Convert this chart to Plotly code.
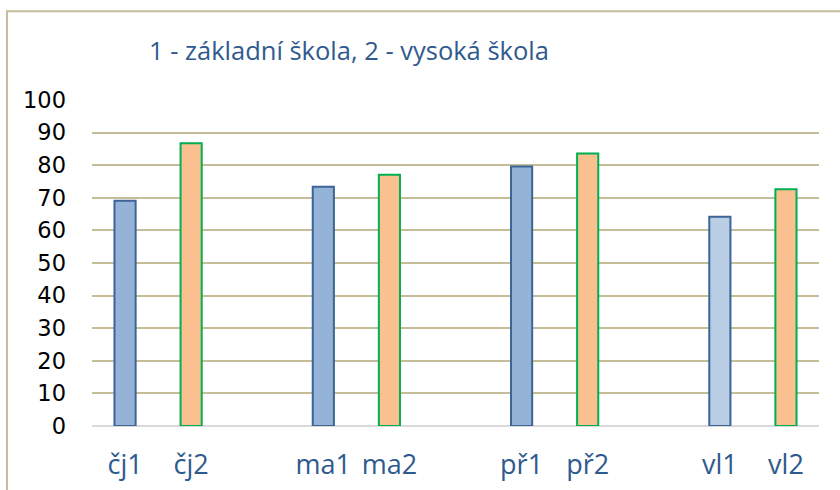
import plotly.graph_objects as go

# subjects, 1 = základní škola, 2 = vysoká škola
subjects = ["čj", "ma", "př", "vl"]
zakladni = [69.1, 73.4, 79.6, 64.2]
vysoka = [86.7, 77.1, 83.6, 72.6]
y_ticks = [0, 10, 20, 30, 40, 50, 60, 70, 80, 90, 100]

# every subject takes three slots: bar 1, bar 2, empty gap
x1 = [i * 3 for i in range(len(subjects))]
x2 = [i * 3 + 1 for i in range(len(subjects))]
tickvals = x1 + x2
ticktext = [s + "1" for s in subjects] + [s + "2" for s in subjects]

blue_fill = ["#95B3D7"] * (len(subjects) - 1) + ["#B9CDE5"]

fig = go.Figure()
fig.add_trace(go.Bar(
    x=x1, y=zakladni, width=0.32,
    marker=dict(color=blue_fill, line=dict(color="#3C6496", width=2)),
    name="1",
))
fig.add_trace(go.Bar(
    x=x2, y=vysoka, width=0.32,
    marker=dict(color="#FAC090", line=dict(color="#00B050", width=2)),
    name="2",
))

fig.update_layout(
    width=840, height=490,
    margin=dict(l=92, r=21, t=100, b=63.5),
    paper_bgcolor="white", plot_bgcolor="white",
    showlegend=False, barmode="overlay",
)
fig.update_xaxes(
    range=[-0.5, 10.5], tickvals=tickvals, ticktext=ticktext,
    showgrid=False, showline=False, zeroline=False, automargin=False,
    tickfont=dict(family="Open Sans", size=27, color="#2F5A8E"),
    ticklabelstandoff=20,
)
fig.update_yaxes(
    range=[0, 100], tickvals=y_ticks, automargin=False,
    showgrid=True, gridcolor="#C4BD97", gridwidth=2,
    zeroline=True, zerolinecolor="#D9D9D9", zerolinewidth=2,
    showline=False,
    tickfont=dict(family="DejaVu Sans", size=22.5, color="black"),
    ticklabelstandoff=25,
)

fig.add_annotation(
    text="1 - základní škola, 2 - vysoká škola",
    xref="paper", yref="paper", x=0.0757, y=1.153,
    xanchor="left", yanchor="middle", showarrow=False,
    font=dict(family="Open Sans", size=25.5, color="#2F5A8E"),
)

# chart frame (left and top edges visible)
fig.add_shape(
    type="rect", xref="paper", yref="paper",
    x0=-0.117, x1=1.2, y0=-0.5, y1=1.2726,
    line=dict(color="#C4BD97", width=2), layer="below",
)

fig.write_html("out.html", config={"displayModeBar": False},
               post_script="document.body.style.margin='0';")
